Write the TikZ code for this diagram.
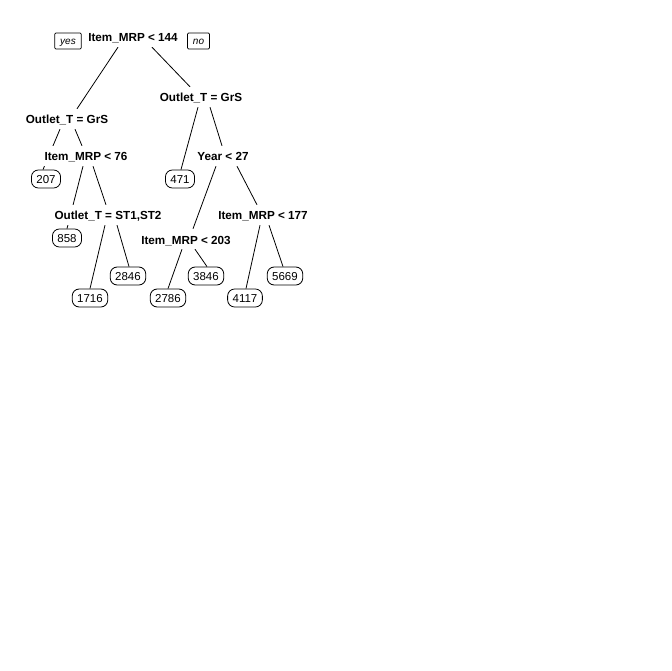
\documentclass[tikz,border=0pt]{standalone}
\usepackage{fontspec}
\setmainfont{Liberation Sans}
\usetikzlibrary{calc,backgrounds}
\begin{document}
\begin{tikzpicture}[x=1pt,y=-1pt,
  split/.style={anchor=base, font=\bfseries\fontsize{11.7}{14}\selectfont, fill=white,
    inner xsep=1pt, inner ysep=0pt, text height=15pt, text depth=5pt},
  leaf/.style={draw, rounded corners=7pt, font=\fontsize{11.5}{14}\selectfont,
    inner xsep=5pt, inner ysep=0pt, minimum height=18pt, text height=8.3pt, text depth=0pt,
    line width=0.8pt},
  tag/.style={draw, rounded corners=1.2pt, font=\itshape\fontsize{10}{12}\selectfont,
    inner xsep=5.5pt, inner ysep=0pt, minimum height=16pt, text height=7.3pt, text depth=0pt,
    line width=0.8pt},
  branch/.style={line width=0.8pt}]
\useasboundingbox (0,0) rectangle (672,671);

% split labels (placed at their baselines)
\node[split] (A) at (133,42) {Item\_MRP < 144};
\node[split] (B) at (67,124) {Outlet\_T = GrS};
\node[split] (C) at (201,102) {Outlet\_T = GrS};
\node[split] (D) at (86,161) {Item\_MRP < 76};
\node[split] (E) at (223,161) {Year < 27};
\node[split] (F) at (108,220) {Outlet\_T = ST1,ST2};
\node[split] (G) at (263,220) {Item\_MRP < 177};
\node[split] (H) at (186,244) {Item\_MRP < 203};

% yes / no tags
\node[tag] (yes) at (68,41) {yes};
\node[tag] (no) at (198.5,41) {no};

% leaves
\node[leaf] (l207) at (46,179) {207};
\node[leaf] (l471) at (180,179) {471};
\node[leaf] (l858) at (67,238) {858};
\node[leaf] (l2846) at (128,276) {2846};
\node[leaf] (l3846) at (206,276) {3846};
\node[leaf] (l5669) at (285,276) {5669};
\node[leaf] (l1716) at (90,298) {1716};
\node[leaf] (l2786) at (168,298) {2786};
\node[leaf] (l4117) at (245,298) {4117};

\begin{scope}[on background layer]
  \fill[white] (0,0) rectangle (672,671);
  \draw[branch] ($(A.south)+(-15,0)$) -- ($(B.north)+(10,0)$);
  \draw[branch] ($(A.south)+(19,0)$) -- ($(C.north)+(-11,0)$);
  \draw[branch] ($(B.south)+(-7,0)$) -- ($(l207.north)+(-3,0)$);
  \draw[branch] ($(B.south)+(8,0)$) -- ($(D.north)+(-4,0)$);
  \draw[branch] ($(C.south)+(-3,0)$) -- ($(l471.north)+(1,0)$);
  \draw[branch] ($(C.south)+(9,0)$) -- ($(E.north)+(-1,0)$);
  \draw[branch] ($(D.south)+(-3,0)$) -- (l858.north);
  \draw[branch] ($(D.south)+(7,0)$) -- ($(F.north)+(-2,0)$);
  \draw[branch] ($(E.south)+(-7,0)$) -- ($(H.north)+(7,0)$);
  \draw[branch] ($(E.south)+(14,0)$) -- ($(G.north)+(-6,0)$);
  \draw[branch] ($(F.south)+(-3,0)$) -- (l1716.north);
  \draw[branch] ($(F.south)+(9,0)$) -- ($(l2846.north)+(1,0)$);
  \draw[branch] ($(G.south)+(-3,0)$) -- ($(l4117.north)+(1,0)$);
  \draw[branch] ($(G.south)+(6,0)$) -- ($(l5669.north)+(-2,0)$);
  \draw[branch] ($(H.south)+(-4,0)$) -- (l2786.north);
  \draw[branch] ($(H.south)+(9,0)$) -- ($(l3846.north)+(1,0)$);
\end{scope}
\end{tikzpicture}
\end{document}
